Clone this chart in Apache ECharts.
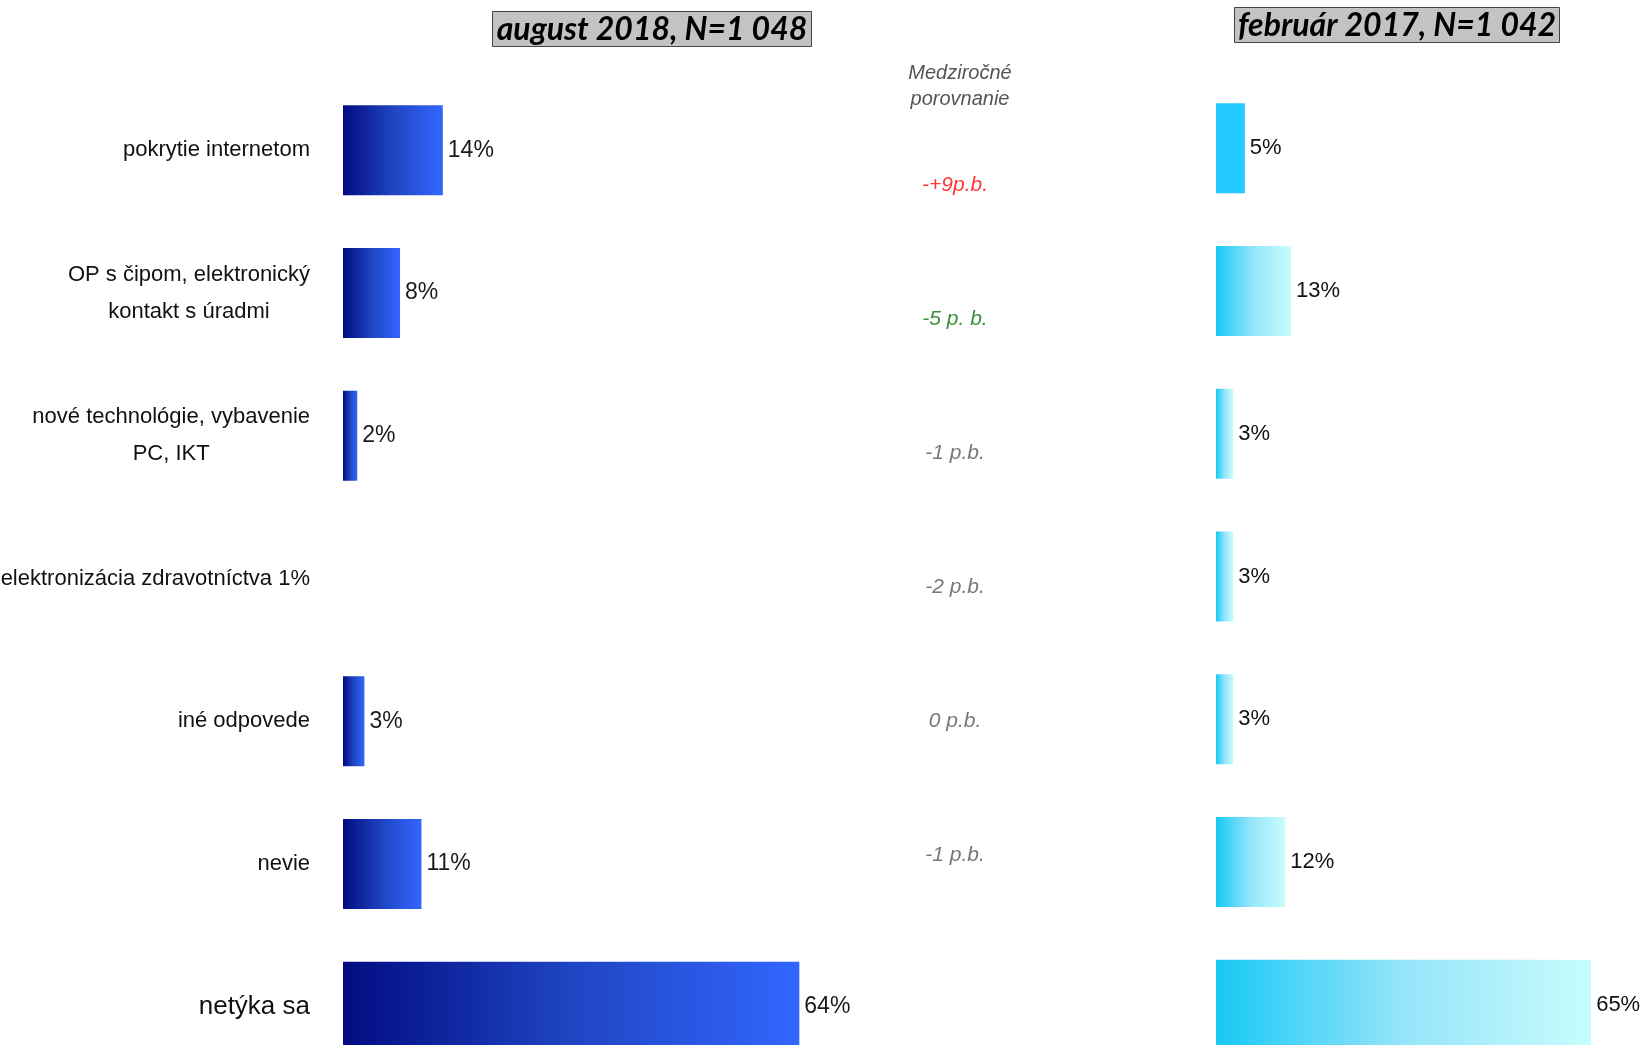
<!DOCTYPE html>
<html>
<head>
<meta charset="utf-8">
<title>Medziročné porovnanie</title>
<script src="https://cdn.jsdelivr.net/npm/echarts@6/dist/echarts.min.js"></script>
<style>
  html, body { margin: 0; padding: 0; background: #fff; }
  #chart { width: 1643px; height: 1045px; }
</style>
</head>
<body>
<div id="chart"></div>
<script>
// categories (left axis labels)
var categories = [
  'pokrytie internetom',
  'OP s čipom, elektronický\nkontakt s úradmi',
  'nové technológie, vybavenie\nPC, IKT',
  'elektronizácia zdravotníctva 1%',
  'iné odpovede',
  'nevie',
  'netýka sa'
];
// august 2018 (elektronizácia has no bar, value shown in its label)
var values2018 = [14, 8, 2, null, 3, 11, 64];
// február 2017
var values2017 = [5, 13, 3, 3, 3, 12, 65];
// year-on-year comparison column
var diffLabels = ['-+9p.b.', '-5 p. b.', '-1 p.b.', '-2 p.b.', '0 p.b.', '-1 p.b.'];
var diffColors = ['#ff0000', '#0a700a', '#555555', '#555555', '#555555', '#555555'];

var FONT = '"Liberation Sans Narrow", "Liberation Sans", Arial, sans-serif';

var blueGrad = new echarts.graphic.LinearGradient(0, 0, 1, 0, [
  { offset: 0, color: '#020c82' },
  { offset: 0.5, color: '#1f45c2' },
  { offset: 1, color: '#3366ff' }
]);
var cyanGrad = new echarts.graphic.LinearGradient(0, 0, 1, 0, [
  { offset: 0, color: '#17c9f5' },
  { offset: 0.5, color: '#96e4fa' },
  { offset: 1, color: '#c8fdfd' }
]);

function catLabel (value) {
  var style = value === 'netýka sa' ? 'b' : 'c';
  return value.split('\n').map(function (l) { return '{' + style + '|' + l + '}'; }).join('\n');
}

var chart = echarts.init(document.getElementById('chart'));

chart.setOption({
  backgroundColor: '#fff',
  animation: false,
  title: [
    {
      text: 'august 2018, N=1 048',
      left: 648, top: 11, textAlign: 'center',
      backgroundColor: '#c3c3c3', borderColor: '#444', borderWidth: 1,
      padding: [2, 4, 0, 4],
      textStyle: { fontFamily: 'Lato', fontStyle: 'italic', fontWeight: 'bold', fontSize: 32, color: '#000', lineHeight: 34 }
    },
    {
      text: 'február 2017, N=1 042',
      left: 1393, top: 7, textAlign: 'center',
      backgroundColor: '#c3c3c3', borderColor: '#444', borderWidth: 1,
      padding: [2, 4, 0, 4],
      textStyle: { fontFamily: 'Lato', fontStyle: 'italic', fontWeight: 'bold', fontSize: 32, color: '#000', lineHeight: 34 }
    },
    {
      text: 'Medziročné\nporovnanie',
      left: 955, top: 55, textAlign: 'center',
      textStyle: { fontFamily: FONT, fontStyle: 'italic', fontWeight: 'normal', fontSize: 20, color: '#555', lineHeight: 26 }
    }
  ],
  grid: [
    { left: 343, width: 713, top: 79, height: 999, outerBoundsMode: 'none', containLabel: false },
    { left: 1216, width: 404, top: 77, height: 999, outerBoundsMode: 'none', containLabel: false },
    { left: 900, width: 110, top: 118, height: 804, outerBoundsMode: 'none', containLabel: false }
  ],
  xAxis: [
    { gridIndex: 0, type: 'value', min: 0, max: 100, show: false },
    { gridIndex: 1, type: 'value', min: 0, max: 70, show: false },
    { gridIndex: 2, type: 'value', min: 0, max: 1, show: false }
  ],
  yAxis: [
    {
      gridIndex: 0, type: 'category', inverse: true, data: categories,
      axisLine: { show: false }, axisTick: { show: false }, splitLine: { show: false },
      axisLabel: {
        margin: 33,
        formatter: catLabel,
        rich: {
          c: { align: 'center', fontFamily: FONT, fontSize: 22, color: '#111', lineHeight: 37 },
          b: { align: 'center', fontFamily: FONT, fontSize: 26, color: '#111', lineHeight: 37 }
        }
      }
    },
    {
      gridIndex: 1, type: 'category', inverse: true, data: categories, show: false
    },
    {
      gridIndex: 2, type: 'category', inverse: true, data: diffLabels, show: false
    }
  ],
  series: [
    {
      name: 'august 2018',
      type: 'bar',
      xAxisIndex: 0, yAxisIndex: 0,
      barWidth: 90,
      data: values2018,
      itemStyle: { color: blueGrad },
      label: {
        show: true, position: 'right', distance: 5,
        formatter: '{c}%',
        fontFamily: FONT, fontSize: 23, color: '#1a1a1a'
      }
    },
    {
      name: 'február 2017',
      type: 'bar',
      xAxisIndex: 1, yAxisIndex: 1,
      barWidth: 90,
      data: values2017.map(function (v, i) {
        return i === 0 ? { value: v, itemStyle: { color: '#25cbff' } } : v;
      }),
      itemStyle: { color: cyanGrad },
      label: {
        show: true, position: 'right', distance: 5,
        formatter: '{c}%',
        fontFamily: FONT, fontSize: 22, color: '#111'
      }
    },
    {
      name: 'Medziročné porovnanie',
      type: 'scatter',
      xAxisIndex: 2, yAxisIndex: 2,
      symbolSize: 0,
      silent: true,
      data: diffLabels.map(function (t, i) {
        return {
          value: [0.5, i],
          label: { color: diffColors[i] }
        };
      }),
      label: {
        show: true, position: 'inside',
        formatter: function (p) { return diffLabels[p.dataIndex]; },
        fontFamily: FONT, fontStyle: 'italic', fontSize: 21
      }
    }
  ]
});
</script>
</body>
</html>
